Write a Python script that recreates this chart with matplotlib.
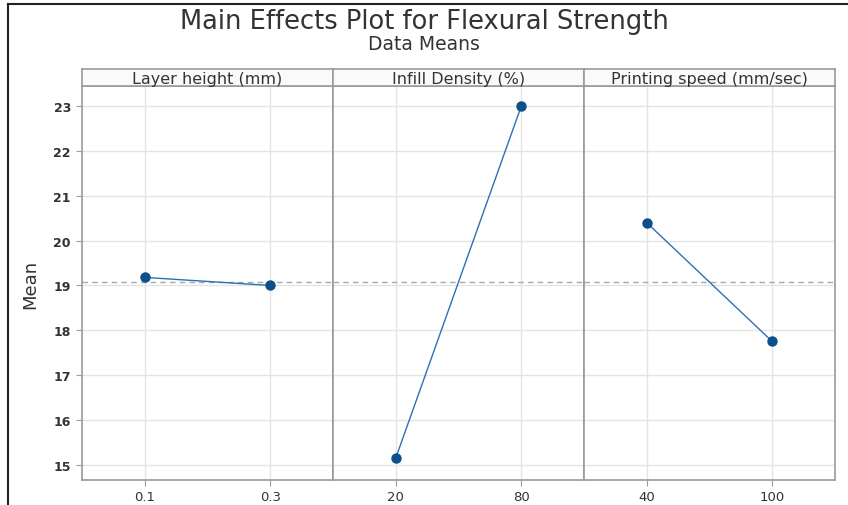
import matplotlib
matplotlib.use("Agg")
import matplotlib.pyplot as plt
from matplotlib.lines import Line2D

plt.rcParams['font.family'] = ['DejaVu Sans']

factors = ["Layer height (mm)", "Infill Density (%)", "Printing speed (mm/sec)"]
levels = [["0.1", "0.3"], ["20", "80"], ["40", "100"]]
means = [[19.18, 19.00], [15.15, 23.00], [20.40, 17.75]]
grand_mean = 19.08
yticks = [15, 16, 17, 18, 19, 20, 21, 22, 23]

W, H = 848, 506
fig = plt.figure(figsize=(W / 100, H / 100), dpi=100)

left, right = 82, 835
top, bottom = 87, 481
strip_top = 70
pw = (right - left) / 3

line_c = "#2f6fb5"
mark_c = "#0d4f8b"
frame_c = "#9a9a9a"
grid_c = "#e4e4e4"
text_c = "#333333"

for i in range(3):
    x0 = left + i * pw
    ax = fig.add_axes([x0 / W, 1 - bottom / H, pw / W, (bottom - top) / H])
    xs = list(range(len(levels[i])))
    ax.set_xlim(-0.5, len(levels[i]) - 0.5)
    ax.set_ylim(14.66, 23.45)
    ax.set_yticks(yticks)
    ax.set_xticks(xs)
    ax.set_xticklabels(levels[i], fontsize=9.5, color=text_c)
    ax.grid(True, color=grid_c, linewidth=1.0)
    ax.set_axisbelow(True)
    ax.axhline(grand_mean, color="#a8a8a8", linestyle=(0, (4, 3)), linewidth=1.0, zorder=1)
    ax.plot(xs, means[i], color=line_c, linewidth=1.0, zorder=3)
    ax.plot(xs, means[i], linestyle="none", marker="o", markersize=6.5,
            color=mark_c, zorder=4)
    for s in ax.spines.values():
        s.set_color(frame_c)
        s.set_linewidth(1.2)
    ax.tick_params(axis="x", length=4, color=frame_c, pad=3)
    if i == 0:
        ax.set_yticklabels([str(v) for v in yticks], fontsize=9, color=text_c,
                           fontweight="bold")
        ax.tick_params(axis="y", length=4, color=frame_c, pad=4)
        ax.set_ylabel("Mean", fontsize=13, color=text_c, labelpad=10)
    else:
        ax.tick_params(axis="y", length=0, labelleft=False)

    sax = fig.add_axes([x0 / W, 1 - top / H, pw / W, (top - strip_top) / H])
    sax.set_xticks([]); sax.set_yticks([])
    sax.set_facecolor("#fafafa")
    for s in sax.spines.values():
        s.set_color(frame_c)
        s.set_linewidth(1.2)
    sax.text(0.5, 0.45, factors[i], ha="center", va="center", fontsize=11.5,
             color=text_c, transform=sax.transAxes)

fig.text(0.5, 1 - 22 / H, "Main Effects Plot for Flexural Strength", ha="center",
         va="center", fontsize=18.5, color=text_c)
fig.text(0.5, 1 - 45 / H, "Data Means", ha="center", va="center", fontsize=13.5,
         color=text_c)

fig.add_artist(Line2D([8 / W, 8 / W], [0, 1 - 5 / H], color="#222222", linewidth=1.5))
fig.add_artist(Line2D([8 / W, 1], [1 - 5 / H, 1 - 5 / H], color="#222222", linewidth=1.5))

fig.savefig("out.png", dpi=100)
